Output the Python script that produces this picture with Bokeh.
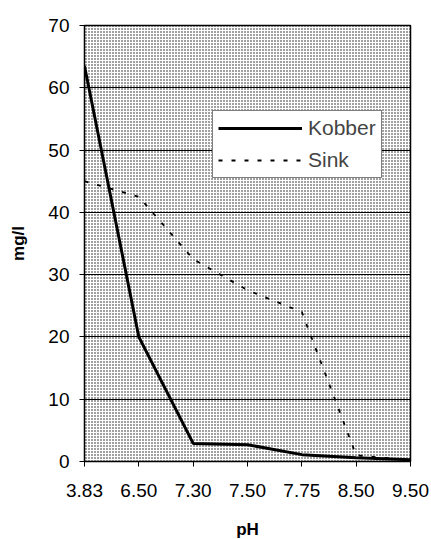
from bokeh.plotting import figure
from bokeh.models import BoxAnnotation, Legend, LegendItem, FixedTicker, SingleIntervalTicker
from bokeh.embed import file_html
from bokeh.resources import INLINE

ph_labels = ["3.83", "6.50", "7.30", "7.50", "7.75", "8.50", "9.50"]
kobber = [63.5, 20.0, 2.9, 2.7, 1.1, 0.6, 0.3]
sink = [45.0, 42.5, 32.5, 27.5, 24.0, 1.0, 0.2]
x = list(range(len(ph_labels)))

FONT = "Liberation Sans"

p = figure(width=431, height=539, output_backend="svg", toolbar_location=None,
           x_range=(0, len(ph_labels) - 1), y_range=(0, 70),
           frame_width=326, frame_height=436,
           min_border_left=84, min_border_right=21, min_border_top=25, min_border_bottom=78)
p.background_fill_color = "white"
p.border_fill_color = "white"
p.outline_line_color = "black"
p.outline_line_width = 1.5

bg = BoxAnnotation(level="image", fill_color="#c8c8c8", fill_alpha=0.0,
                   hatch_pattern="dot", hatch_scale=3, hatch_weight=1.5,
                   hatch_color="#111111", line_color=None)
p.add_layout(bg)

p.xgrid.visible = False
p.ygrid.grid_line_color = "black"
p.ygrid.grid_line_width = 1
p.yaxis.ticker = SingleIntervalTicker(interval=10)
p.xaxis.ticker = FixedTicker(ticks=x)
p.xaxis.major_label_overrides = {i: lab for i, lab in enumerate(ph_labels)}

for ax in (p.xaxis[0], p.yaxis[0]):
    ax.axis_line_color = "black"
    ax.major_tick_line_color = "black"
    ax.major_tick_in = 0
    ax.major_tick_out = 5
    ax.minor_tick_line_color = None
    ax.major_label_text_font = FONT
    ax.major_label_text_font_size = "19px"
    ax.major_label_text_color = "black"
    ax.axis_label_text_font = FONT
    ax.axis_label_text_font_size = "17px"
    ax.axis_label_text_font_style = "bold"
    ax.axis_label_text_color = "black"

p.xaxis.axis_label = "pH"
p.yaxis.axis_label = "mg/l"
p.yaxis.major_label_standoff = 10
p.yaxis.axis_label_standoff = 17
p.xaxis.major_label_standoff = 17
p.xaxis.axis_label_standoff = 20

r1 = p.line(x, kobber, line_color="black", line_width=3)
r2 = p.line(x, sink, line_color="black", line_width=1.8, line_dash="4 9")

legend = Legend(items=[LegendItem(label="Kobber", renderers=[r1]),
                       LegendItem(label="Sink", renderers=[r2])],
                location=(128, 283), glyph_width=84, glyph_height=22,
                label_height=22,
                label_text_font=FONT, label_text_font_size="21px",
                label_standoff=6, spacing=8, padding=5, margin=0,
                border_line_color="black", border_line_width=1,
                background_fill_color="white", background_fill_alpha=1.0)
p.add_layout(legend)

open("out.html", "w").write(file_html(p, INLINE))
